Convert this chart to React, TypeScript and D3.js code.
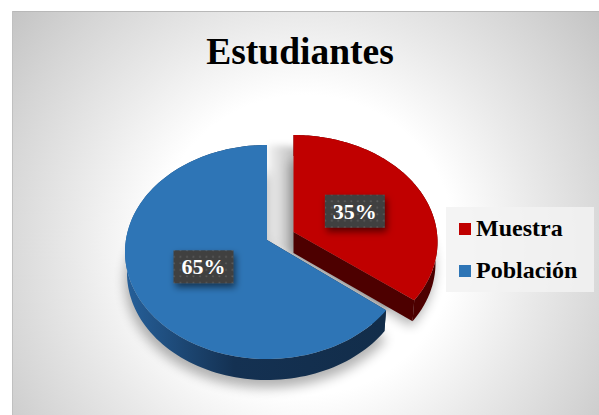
import React from "react";
import * as d3 from "d3";

const categories = ["Muestra", "Población"];
const shares = [35, 65];
const labels = ["35%", "65%"];
const colors = ["#c00000", "#2e75b6"];
const title = "Estudiantes";

const W = 599, H = 415;
const SERIF = "'Liberation Serif', 'Times New Roman', serif";

type Geo = { cx: number; cy: number; apexY: number; rx: number; ry: number };
const geos: Geo[] = [
  { cx: 293.5, cy: 242, apexY: 232, rx: 144, ry: 107 },
  { cx: 267, cy: 252, apexY: 240, rx: 142, ry: 107 },
];
const DEPTH = 21;

// slight perspective shift of the wedge boundaries
const view = (a: number) => a - (3.7 * Math.PI / 180) * Math.sin(a);
const pt = (g: Geo, a: number, dy = 0, shrink = 0): [number, number] => [
  g.cx + (g.rx - shrink) * Math.sin(view(a)),
  g.cy + dy - g.ry * Math.cos(view(a)),
];
const line = d3.line<[number, number]>().curve(d3.curveLinear);
const samples = (a0: number, a1: number) => d3.range(0, 121).map((i) => a0 + ((a1 - a0) * i) / 120);

const pieArcs = d3.pie<number>().sort(null).value((d) => d)(shares);

function topPath(g: Geo, a0: number, a1: number) {
  return line([[g.cx, g.apexY], ...samples(a0, a1).map((a) => pt(g, a))])! + "Z";
}
function rimPath(g: Geo, a0: number, a1: number) {
  const s = samples(a0, a1);
  const top = s.map((a) => pt(g, a));
  const bottom = s.map((a) => pt(g, a, DEPTH, 2)).reverse();
  return line([...top, ...bottom])! + "Z";
}
function cutPath(g: Geo, a: number) {
  const p = pt(g, a);
  const q = pt(g, a, DEPTH, 2);
  return line([[g.cx, g.apexY], p, q, [g.cx, g.apexY + DEPTH]])! + "Z";
}

export default function App() {
  const red = pieArcs[0];
  const blue = pieArcs[1];
  const gr = geos[0];
  const gb = geos[1];
  const labelPos = pieArcs.map((d, i) => {
    const g = geos[i];
    const m = (d.startAngle + d.endAngle) / 2;
    return [g.cx + 0.49 * g.rx * Math.sin(m) - 1.5, g.apexY - 0.49 * g.ry * Math.cos(m) + 3];
  });
  return (
    <svg width={W} height={H} style={{ position: "fixed", left: 0, top: 0, display: "block" }}>
      <defs>
        <radialGradient id="bg" gradientUnits="userSpaceOnUse" cx={305} cy={245} r={375}>
          <stop offset="0" stopColor="#ffffff" />
          <stop offset="0.4" stopColor="#ffffff" />
          <stop offset="0.62" stopColor="#e9e9e9" />
          <stop offset="0.82" stopColor="#d6d6d6" />
          <stop offset="1" stopColor="#c4c4c4" />
        </radialGradient>
        <linearGradient id="blueSide" gradientUnits="userSpaceOnUse" x1={125} x2={385} y1={0} y2={0}>
          <stop offset="0" stopColor="#26609a" />
          <stop offset="0.42" stopColor="#143152" />
          <stop offset="1" stopColor="#122d4a" />
        </linearGradient>
        <linearGradient id="gapShade" gradientUnits="userSpaceOnUse" x1={267} x2={293} y1={0} y2={0}>
          <stop offset="0" stopColor="#000" stopOpacity="0.04" />
          <stop offset="1" stopColor="#000" stopOpacity="0.24" />
        </linearGradient>
        <filter id="soft" x="-30%" y="-30%" width="160%" height="160%">
          <feGaussianBlur stdDeviation="6" />
        </filter>
        <filter id="soft2" x="-30%" y="-30%" width="160%" height="160%">
          <feGaussianBlur stdDeviation="3" />
        </filter>
        <filter id="boxShadow" x="-30%" y="-30%" width="160%" height="170%">
          <feDropShadow dx="2" dy="4" stdDeviation="3.5" floodColor="#000" floodOpacity="0.55" />
        </filter>
        <pattern id="dots" width={6.5} height={6.5} patternUnits="userSpaceOnUse">
          <rect width={6.5} height={6.5} fill="#404040" />
          <circle cx={3} cy={3} r={1} fill="#5c5c5c" />
        </pattern>
      </defs>

      <rect x={0} y={0} width={W} height={H} fill="#fff" />
      <rect x={12} y={11} width={W - 12} height={H - 11} fill="url(#bg)" />
      <line x1={12} x2={W} y1={11.5} y2={11.5} stroke="#b8b8b8" />
      <line x1={12.5} x2={12.5} y1={11} y2={H} stroke="#c0c0c0" />

      <text x={300} y={64} textAnchor="middle" fontFamily={SERIF} fontWeight="bold" fontSize={37.5} fill="#000">
        {title}
      </text>

      {/* soft shadows under the wedges */}
      <g filter="url(#soft)" fill="#000" opacity={0.3}>
        <path d={topPath({ ...gb, cy: gb.cy + DEPTH + 5 }, blue.startAngle, blue.endAngle)} transform="translate(0,3)" />
        <path d={topPath({ ...gr, cy: gr.cy + DEPTH + 5, apexY: gr.apexY + DEPTH }, red.startAngle, red.endAngle)} transform="translate(-3,0)" />
      </g>
      {/* shaded gap between the two wedges */}
      <g filter="url(#soft2)">
        <path d={topPath(gb, 0, blue.startAngle)} fill="url(#gapShade)" />
      </g>

      {/* Población */}
      <path d={rimPath(gb, blue.startAngle, blue.endAngle)} fill="url(#blueSide)" />
      <path d={cutPath(gb, blue.startAngle)} fill="#122d4a" />
      <path d={topPath(gb, blue.startAngle, blue.endAngle)} fill={colors[1]} />

      {/* Muestra */}
      <path d={rimPath(gr, red.startAngle, red.endAngle)} fill="#4d0000" />
      <path d={cutPath(gr, red.endAngle)} fill="#4d0000" />
      <path d={topPath(gr, red.startAngle, red.endAngle)} fill={colors[0]} />

      {labels.map((t, i) => (
        <g key={t} transform={`translate(${labelPos[i][0]},${labelPos[i][1]})`}>
          <rect x={-30} y={-16.5} width={60} height={33} fill="url(#dots)" filter="url(#boxShadow)" />
          <text y={7.5} textAnchor="middle" fontFamily={SERIF} fontWeight="bold" fontSize={22} fill="#fff">
            {t}
          </text>
        </g>
      ))}

      <rect x={446} y={207} width={148} height={85} fill="#f2f2f2" opacity={0.85} />
      {categories.map((c, i) => (
        <g key={c} transform={`translate(459,${223 + i * 42})`}>
          <rect width={12} height={12} fill={colors[i]} />
          <text x={17} y={13} fontFamily={SERIF} fontWeight="bold" fontSize={24} fill="#000">
            {c}
          </text>
        </g>
      ))}
    </svg>
  );
}
